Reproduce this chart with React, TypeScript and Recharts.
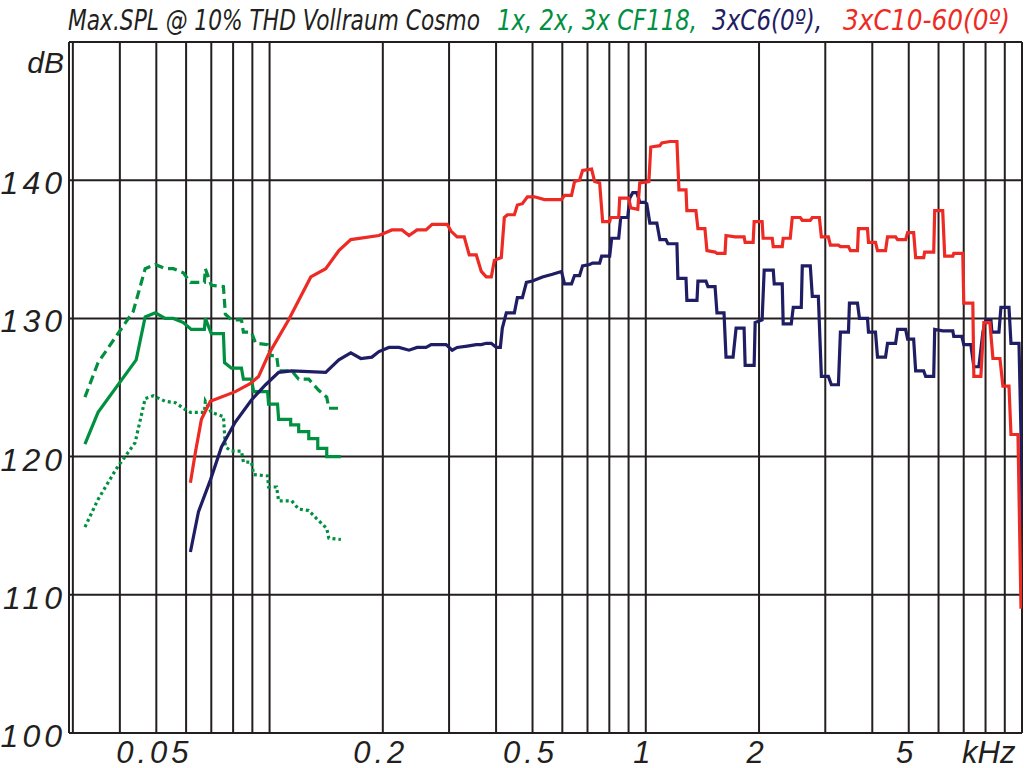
import { LineChart, Line, XAxis, YAxis, CartesianGrid } from 'recharts';

// frequency in kHz, level in dB
const cf118x1: [number, number][] = [
  [0.0323, 114.9], [0.035, 116.9], [0.0391, 119.1], [0.0439, 121.0], [0.0467, 124.2], [0.0491, 124.4],
  [0.0528, 124.0], [0.0562, 123.9], [0.0597, 123.4], [0.0616, 123.2], [0.0671, 123.2], [0.0675, 124.0],
  [0.07, 123.2], [0.0754, 122.9], [0.0763, 120.7], [0.0792, 120.4], [0.0842, 120.4], [0.0852, 119.6],
  [0.0895, 119.6], [0.0907, 118.7], [0.0988, 118.6], [0.0994, 117.8], [0.1044, 117.8], [0.1057, 116.8],
  [0.1145, 116.8], [0.1195, 116.2], [0.1271, 116.1], [0.1335, 115.5], [0.1419, 114.8], [0.1437, 114.1],
  [0.1547, 114.0],
];

const cf118x2: [number, number][] = [
  [0.0323, 120.9], [0.035, 123.2], [0.0442, 127.0], [0.0467, 130.1], [0.0497, 130.4], [0.0528, 130.0],
  [0.0555, 130.0], [0.059, 129.7], [0.0619, 129.2], [0.0671, 129.2], [0.0675, 130.0], [0.07, 128.9],
  [0.0754, 128.9], [0.0759, 126.8], [0.0792, 126.4], [0.0842, 126.4], [0.0852, 125.6], [0.0895, 125.6],
  [0.0907, 124.7], [0.0988, 124.7], [0.0994, 123.8], [0.105, 123.8], [0.1057, 122.7], [0.1138, 122.7],
  [0.1138, 122.3], [0.1195, 122.3], [0.1195, 121.8], [0.1271, 121.8], [0.1271, 121.3], [0.1343, 121.3],
  [0.1343, 120.6], [0.1419, 120.6], [0.1419, 120.0], [0.1547, 120.0],
];

const cf118x3: [number, number][] = [
  [0.0323, 124.3], [0.035, 126.8], [0.0434, 130.5], [0.0467, 133.6], [0.0497, 133.9], [0.0528, 133.6],
  [0.0555, 133.6], [0.059, 133.3], [0.0616, 132.6], [0.0671, 132.6], [0.0675, 133.6], [0.07, 132.4],
  [0.0754, 132.3], [0.0763, 130.3], [0.0792, 129.9], [0.0842, 129.9], [0.0852, 129.0], [0.0895, 129.0],
  [0.0918, 128.2], [0.0988, 128.1], [0.1006, 127.3], [0.1044, 127.3], [0.1057, 126.2], [0.1145, 126.2],
  [0.1195, 125.6], [0.1271, 125.6], [0.1351, 124.8], [0.1419, 124.3], [0.1437, 123.5], [0.1547, 123.5],
];

const c6: [number, number][] = [
  [0.0616, 113.1], [0.0647, 116.0], [0.0696, 118.3], [0.0745, 120.7], [0.0811, 122.5], [0.0895, 124.1],
  [0.0976, 125.2], [0.1057, 126.1], [0.1145, 126.2], [0.141, 126.1], [0.1528, 127.0], [0.1644, 127.5],
  [0.1748, 127.1], [0.1871, 127.2], [0.1953, 127.6], [0.2076, 127.9], [0.2208, 127.9], [0.2348, 127.7],
  [0.2466, 127.9], [0.2606, 127.9], [0.2688, 128.1], [0.2946, 128.1], [0.3057, 127.7], [0.3152, 127.9],
  [0.3353, 128.0], [0.3543, 128.1], [0.3654, 128.1], [0.3767, 128.2], [0.3885, 128.2], [0.4006, 127.9],
  [0.4106, 127.9], [0.4156, 129.3], [0.4259, 130.4], [0.4474, 130.4], [0.4557, 131.5], [0.4699, 131.5],
  [0.4816, 132.6], [0.4997, 132.7], [0.5313, 133.0], [0.5649, 133.2], [0.597, 133.4], [0.6081, 132.5],
  [0.6348, 132.5], [0.6466, 133.1], [0.6668, 133.1], [0.6792, 133.8], [0.709, 133.9], [0.7222, 134.0],
  [0.7539, 134.0], [0.7633, 134.5], [0.8017, 134.5], [0.8116, 135.8], [0.8472, 135.8], [0.8577, 137.3],
  [0.8954, 137.3], [0.9064, 138.7], [0.9232, 139.1], [0.9462, 139.1], [0.9638, 138.4], [0.9939, 138.4],
  [1.006, 138.3], [1.025, 136.9], [1.07, 136.9], [1.09, 135.7], [1.131, 135.7], [1.145, 135.4],
  [1.21, 135.4], [1.217, 132.9], [1.279, 132.9], [1.286, 131.3], [1.368, 131.3], [1.376, 132.7],
  [1.445, 132.7], [1.463, 132.3], [1.528, 132.3], [1.546, 130.4], [1.614, 130.4], [1.634, 127.2],
  [1.706, 127.2], [1.738, 129.3], [1.825, 129.3], [1.837, 126.6], [1.941, 126.6], [1.953, 129.7],
  [2.038, 129.9], [2.064, 133.5], [2.182, 133.5], [2.195, 132.5], [2.305, 132.5], [2.319, 129.6],
  [2.436, 129.6], [2.466, 130.8], [2.59, 130.8], [2.606, 133.8], [2.737, 133.8], [2.771, 131.6],
  [2.875, 131.6], [2.929, 125.8], [3.057, 125.8], [3.114, 125.2], [3.251, 125.2], [3.291, 129.0],
  [3.457, 129.0], [3.478, 131.1], [3.653, 131.1], [3.698, 130.0], [3.884, 130.0], [3.908, 129.0],
  [4.079, 129.0], [4.13, 127.2], [4.338, 127.2], [4.391, 128.2], [4.613, 128.2], [4.67, 129.2],
  [4.905, 129.2], [4.966, 128.5], [5.152, 128.5], [5.216, 126.2], [5.479, 126.2], [5.546, 125.8],
  [5.825, 125.8], [5.861, 129.2], [6.155, 129.1], [6.546, 129.1], [6.586, 128.7], [6.918, 128.7],
  [7.003, 128.1], [7.311, 128.1], [7.447, 126.5], [7.679, 126.5], [7.87, 129.0], [8.017, 129.9],
  [8.267, 129.9], [8.318, 129.0], [8.684, 129.0], [8.79, 130.8], [9.234, 130.8], [9.348, 128.2],
  [9.817, 128.2], [9.938, 121.7], [10, 115.1],
];

const c10: [number, number][] = [
  [0.0616, 118.1], [0.0635, 120.3], [0.0659, 122.7], [0.0696, 124.0], [0.0811, 124.7], [0.089, 125.3],
  [0.0935, 125.8], [0.0994, 127.4], [0.1124, 129.9], [0.1287, 133.0], [0.141, 133.6], [0.1528, 134.9],
  [0.1644, 135.7], [0.1953, 136.0], [0.2115, 136.4], [0.2249, 136.4], [0.2348, 136.0], [0.2466, 136.4],
  [0.2606, 136.4], [0.2704, 136.8], [0.2965, 136.8], [0.3039, 136.3], [0.3152, 135.9], [0.3291, 135.9],
  [0.3394, 134.6], [0.3543, 134.6], [0.3654, 133.4], [0.3767, 133.0], [0.3885, 133.0], [0.3958, 134.2],
  [0.413, 134.4], [0.4207, 137.3], [0.4285, 137.5], [0.4474, 137.5], [0.4557, 138.2], [0.4699, 138.3],
  [0.4846, 138.8], [0.5058, 138.8], [0.5378, 138.6], [0.597, 138.6], [0.6081, 138.9], [0.6348, 138.9],
  [0.6466, 139.9], [0.6668, 140.0], [0.6792, 140.7], [0.7178, 140.8], [0.7311, 139.9], [0.7539, 139.8],
  [0.768, 137.0], [0.8017, 137.0], [0.8066, 137.3], [0.8472, 137.3], [0.8524, 138.7], [0.9009, 138.7],
  [0.912, 138.0], [0.9521, 137.9], [0.9638, 139.8], [1.019, 139.9], [1.031, 142.4], [1.09, 142.5],
  [1.103, 142.7], [1.159, 142.8], [1.21, 142.8], [1.225, 139.3], [1.279, 139.3], [1.286, 137.8],
  [1.359, 137.8], [1.376, 136.5], [1.436, 136.5], [1.454, 134.9], [1.528, 134.8], [1.546, 134.7],
  [1.624, 134.7], [1.634, 136.0], [1.727, 135.9], [1.825, 135.9], [1.837, 135.5], [1.929, 135.5],
  [1.941, 137.0], [2.038, 137.0], [2.051, 135.8], [2.168, 135.8], [2.182, 135.2], [2.305, 135.2],
  [2.319, 135.8], [2.421, 135.8], [2.451, 137.3], [2.574, 137.3], [2.606, 137.1], [2.737, 137.1],
  [2.771, 137.3], [2.893, 137.3], [2.929, 135.9], [3.057, 135.9], [3.095, 135.3], [3.251, 135.3],
  [3.291, 135.2], [3.457, 135.2], [3.499, 134.9], [3.653, 134.9], [3.675, 136.5], [3.884, 136.5],
  [3.908, 135.5], [4.079, 135.5], [4.13, 134.9], [4.338, 134.9], [4.391, 135.9], [4.613, 135.9],
  [4.67, 135.7], [4.905, 135.7], [4.966, 136.2], [5.152, 136.2], [5.216, 134.4], [5.479, 134.4],
  [5.512, 134.8], [5.825, 134.8], [5.861, 137.8], [6.155, 137.8], [6.231, 134.5], [6.546, 134.5],
  [6.586, 134.7], [6.96, 134.7], [7.003, 131.1], [7.401, 131.1], [7.447, 125.8], [7.774, 125.8],
  [7.918, 129.7], [8.216, 129.7], [8.37, 127.1], [8.737, 127.1], [8.898, 125.1], [9.234, 125.1],
  [9.348, 121.6], [9.757, 121.6], [9.938, 109.1], [10, 109.1],
];

// grid lines (kHz) and which of them get a label
const xGrid = [
  0.0293, 0.03, 0.04, 0.05, 0.06, 0.07, 0.08, 0.09, 0.1,
  0.2, 0.3, 0.4, 0.5, 0.6, 0.7, 0.8, 0.9, 1,
  2, 3, 4, 5, 6, 7, 8, 9, 10,
];
const xLabels: Record<number, string> = { 0.05: '0.05', 0.2: '0.2', 0.5: '0.5', 1: '1', 2: '2', 5: '5' };
const yGrid = [100, 110, 120, 130, 140, 150];
const yLabels = [100, 110, 120, 130, 140];

const GREEN = '#00903f';
const NAVY = '#1f1d63';
const RED = '#ee2a24';
const INK = '#231f20';
const FONT = "'Liberation Sans', Arial, sans-serif";
const NARROW = "'Liberation Sans Narrow', 'DejaVu Sans Condensed', sans-serif";

const toPoints = (rows: [number, number][]) => rows.map(([f, db]) => ({ f, db }));

const XTick = ({ x, payload }: any) => {
  const label = xLabels[payload.value];
  if (!label) return null;
  return (
    <text x={x - 2} y={763} textAnchor="middle" fontFamily={FONT} fontStyle="italic" fontSize={31}
      letterSpacing={4} fill={INK}>
      {label}
    </text>
  );
};

const YTick = ({ y, payload }: any) => {
  if (!yLabels.includes(payload.value)) return null;
  return (
    <text x={66} y={y + 3} textAnchor="end" dominantBaseline="central" fontFamily={FONT} fontStyle="italic"
      fontSize={32} letterSpacing={4} fill={INK}>
      {String(payload.value)}
    </text>
  );
};

export default function App() {
  const series = [
    { key: 'cf1', rows: cf118x1, color: GREEN, dash: '3 3' },
    { key: 'cf2', rows: cf118x2, color: GREEN, dash: undefined },
    { key: 'cf3', rows: cf118x3, color: GREEN, dash: '9 5' },
    { key: 'c6', rows: c6, color: NAVY, dash: undefined },
    { key: 'c10', rows: c10, color: RED, dash: undefined },
  ];

  return (
    <div style={{ position: 'absolute', left: 0, top: 0, width: 1024, height: 768, background: '#fff' }}>
      <LineChart width={1024} height={768} margin={{ top: 42, right: 2, left: 0, bottom: 0 }}>
        <CartesianGrid stroke={INK} strokeWidth={2} />
        <XAxis
          type="number"
          dataKey="f"
          scale="log"
          domain={[0.0293, 10]}
          allowDataOverflow
          ticks={xGrid}
          interval={0}
          height={35}
          axisLine={false}
          tickLine={false}
          tick={<XTick />}
        />
        <YAxis
          type="number"
          dataKey="db"
          domain={[100, 150]}
          ticks={yGrid}
          interval={0}
          width={69}
          axisLine={false}
          tickLine={false}
          tick={<YTick />}
        />
        {series.map((s) => (
          <Line
            key={s.key}
            data={toPoints(s.rows)}
            dataKey="db"
            type="linear"
            stroke={s.color}
            strokeWidth={3.2}
            strokeDasharray={s.dash}
            dot={false}
            activeDot={false}
            isAnimationActive={false}
          />
        ))}
      </LineChart>
      <svg width={1024} height={768} style={{ position: 'absolute', left: 0, top: 0, pointerEvents: 'none' }}>
        <g fontFamily={NARROW} fontStyle="italic" fontSize={28}>
          <text x={68} y={30} fill={INK} textLength={412} lengthAdjust="spacingAndGlyphs">
            Max.SPL @ 10% THD Vollraum Cosmo
          </text>
          <text x={497} y={30} fill={GREEN} textLength={200} lengthAdjust="spacingAndGlyphs">
            1x, 2x, 3x CF118,
          </text>
          <text x={712} y={30} fill={NAVY} textLength={110} lengthAdjust="spacingAndGlyphs">
            3xC6(0º),
          </text>
          <text x={843} y={30} fill={RED} textLength={167} lengthAdjust="spacingAndGlyphs">
            3xC10-60(0º)
          </text>
        </g>
        <text x={64} y={73} textAnchor="end" fontFamily={FONT} fontStyle="italic" fontSize={30} fill={INK}>
          dB
        </text>
        <text x={962} y={763} fontFamily={FONT} fontStyle="italic" fontSize={31} fill={INK}>
          kHz
        </text>
      </svg>
    </div>
  );
}
